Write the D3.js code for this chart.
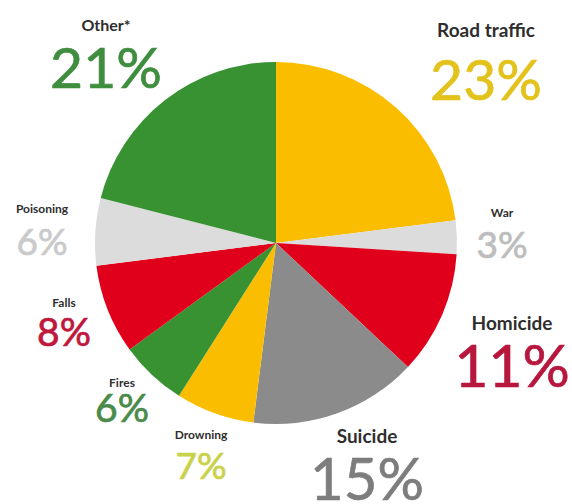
<!DOCTYPE html>
<html>
<head>
<meta charset="utf-8">
<script src="https://cdn.jsdelivr.net/npm/d3@7"></script>
<style>
  body { margin: 0; background: #fff; }
  svg { display: block; }
  .name { font-family: "Lato", sans-serif; font-weight: 700; fill: #2e2e2e; }
  .pct { font-family: "Lato", sans-serif; font-weight: 400; stroke-width: 0.7; }
</style>
</head>
<body>
<script>
// injury deaths by cause, clockwise from 12 o'clock
var causes = ["Road traffic", "War", "Homicide", "Suicide", "Drowning", "Fires", "Falls", "Poisoning", "Other*"];
var shares = [23, 3, 11, 15, 7, 6, 8, 6, 21];
var sliceColors = ["#fbbd00", "#dcdcdc", "#e0001b", "#8b8b8b", "#fbbd00", "#389232", "#e0001b", "#dcdcdc", "#389232"];
var labelColors = ["#e3c21c", "#bdbdbd", "#b8173d", "#7d7d7d", "#c8d24a", "#4a8a4a", "#c0173d", "#cacaca", "#3f8e3f"];

// label layout: x centre, name baseline, pct baseline, name size, pct size
var labelPos = {
  "Road traffic": [486, 37, 100, 19, 57],
  "War":          [502, 217, 258, 12, 37],
  "Homicide":     [512, 330, 387, 19, 59],
  "Suicide":      [367, 443, 500, 19, 58],
  "Drowning":     [201, 439, 479, 12, 37],
  "Fires":        [122, 387, 422, 12, 39],
  "Falls":        [64, 307, 346, 12, 39],
  "Poisoning":    [42, 213, 255, 12, 37],
  "Other*":       [106, 31, 88, 16, 57]
};

var W = 572, H = 504;
var cx = 276, cy = 243, r = 181;

var svg = d3.select("body").append("svg").attr("width", W).attr("height", H);
var g = svg.append("g").attr("transform", "translate(" + cx + "," + cy + ")");

var pie = d3.pie().sort(null).value(function(d) { return d; });
var arc = d3.arc().innerRadius(0).outerRadius(r);

g.selectAll("path")
  .data(pie(shares))
  .enter()
  .append("path")
  .attr("d", arc)
  .attr("fill", function(d, i) { return sliceColors[i]; });

var labels = svg.selectAll("g.lab")
  .data(causes)
  .enter()
  .append("g")
  .attr("class", "lab");

labels.append("text")
  .attr("class", "name")
  .attr("text-anchor", "middle")
  .attr("x", function(d) { return labelPos[d][0]; })
  .attr("y", function(d) { return labelPos[d][1]; })
  .attr("font-size", function(d) { return labelPos[d][3]; })
  .text(function(d) { return d; });

labels.append("text")
  .attr("class", "pct")
  .attr("text-anchor", "middle")
  .attr("x", function(d) { return labelPos[d][0]; })
  .attr("y", function(d) { return labelPos[d][2]; })
  .attr("font-size", function(d) { return labelPos[d][4]; })
  .attr("fill", function(d, i) { return labelColors[i]; })
  .attr("stroke", function(d, i) { return labelColors[i]; })
  .text(function(d, i) { return shares[i] + "%"; });
</script>
</body>
</html>
